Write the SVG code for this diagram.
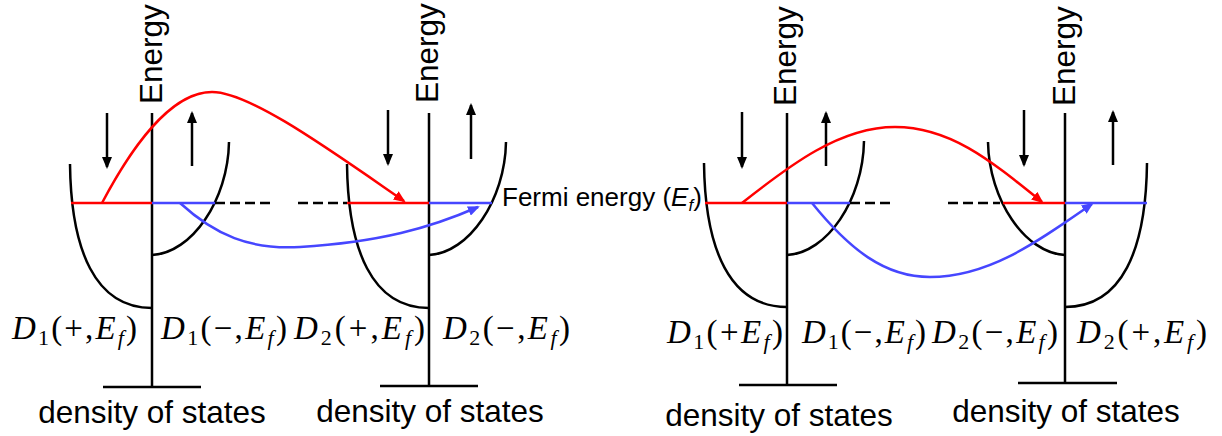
<svg xmlns="http://www.w3.org/2000/svg" width="1222" height="436" viewBox="0 0 1222 436">
<defs>
<style>
.ln{stroke:#000;stroke-width:2.5;fill:none}
.red{stroke:#ff0000;stroke-width:2.5;fill:none}
.blue{stroke:#4646ff;stroke-width:2.5;fill:none}
.dash{stroke:#000;stroke-width:2.5;fill:none;stroke-dasharray:10,5}
.en{font-family:"Liberation Sans",Arial,sans-serif;font-size:31.5px;fill:#000}
.dos{font-family:"Liberation Sans",Arial,sans-serif;font-size:31.5px;fill:#000;text-anchor:middle}
.fe{font-family:"Liberation Sans",Arial,sans-serif;font-size:26px;fill:#000}
.m{font-family:"Liberation Serif","Times New Roman",serif;font-size:33px;fill:#000}
.i{font-style:italic}
.s{font-size:22px}
</style>
<marker id="ak" viewBox="0 0 12 10" refX="10" refY="5" markerWidth="12" markerHeight="10" markerUnits="userSpaceOnUse" orient="auto"><path d="M0,0 L12,5 L0,10 z" fill="#000"/></marker>
<marker id="ar" viewBox="0 0 12 10" refX="10" refY="5" markerWidth="12" markerHeight="10" markerUnits="userSpaceOnUse" orient="auto"><path d="M0,0 L12,5 L0,10 z" fill="#ff0000"/></marker>
<marker id="ab" viewBox="0 0 12 10" refX="10" refY="5" markerWidth="12" markerHeight="10" markerUnits="userSpaceOnUse" orient="auto"><path d="M0,0 L12,5 L0,10 z" fill="#4646ff"/></marker>
</defs>
<rect width="1222" height="436" fill="#fff"/>

<g id="panel1">
<path class="ln" d="M152,113 V387 M103,387 H201"/>
<path class="ln" d="M70,164 C71,250 95,308 152,308"/>
<path class="ln" d="M229,142 C228,200 192,253 152,255"/>
<path class="red" d="M71,203 H152"/>
<path class="blue" d="M152,203 H215"/>
<path class="ln" marker-end="url(#ak)" d="M107,113 V167"/>
<path class="ln" marker-end="url(#ak)" d="M192,166 V113"/>
<text class="en" transform="translate(162,104) rotate(-90)">Energy</text>
<text class="m" x="12" y="339" textLength="125" lengthAdjust="spacing"><tspan class="i">D</tspan><tspan class="s" dy="6">1</tspan><tspan dy="-6">(+,</tspan><tspan class="i">E</tspan><tspan class="s i" dy="6">f</tspan><tspan dy="-6">)</tspan></text>
<text class="m" x="161" y="339" textLength="126" lengthAdjust="spacing"><tspan class="i">D</tspan><tspan class="s" dy="6">1</tspan><tspan dy="-6">(−,</tspan><tspan class="i">E</tspan><tspan class="s i" dy="6">f</tspan><tspan dy="-6">)</tspan></text>
<text class="dos" x="152" y="423">density of states</text>
</g>

<g id="panel2">
<path class="ln" d="M429,113 V386 M380,386 H478"/>
<path class="ln" d="M347,164 C348,250 372,308 429,308"/>
<path class="ln" d="M506,142 C505,200 469,253 429,255"/>
<path class="red" d="M347,203 H429"/>
<path class="blue" d="M429,203 H492"/>
<path class="ln" marker-end="url(#ak)" d="M388,110 V164"/>
<path class="ln" marker-end="url(#ak)" d="M471,159 V105"/>
<text class="en" transform="translate(438,103) rotate(-90)">Energy</text>
<text class="m" x="294" y="339" textLength="131" lengthAdjust="spacing"><tspan class="i">D</tspan><tspan class="s" dy="6">2</tspan><tspan dy="-6">(+,</tspan><tspan class="i">E</tspan><tspan class="s i" dy="6">f</tspan><tspan dy="-6">)</tspan></text>
<text class="m" x="443" y="339" textLength="127" lengthAdjust="spacing"><tspan class="i">D</tspan><tspan class="s" dy="6">2</tspan><tspan dy="-6">(−,</tspan><tspan class="i">E</tspan><tspan class="s i" dy="6">f</tspan><tspan dy="-6">)</tspan></text>
<text class="dos" x="430" y="422">density of states</text>
</g>

<g id="fermi-label">
<text class="fe" x="502" y="206">Fermi energy (<tspan class="i">E</tspan><tspan class="i" font-size="17" dy="5">f</tspan><tspan dy="-5">)</tspan></text>
</g>

<g id="panel3">
<path class="ln" d="M787,113 V385 M739,385 H837"/>
<path class="ln" d="M704,163 C705,250 730,307 787,307"/>
<path class="ln" d="M864,141 C863,200 827,253 787,255"/>
<path class="red" d="M705,203 H787"/>
<path class="blue" d="M787,203 H850"/>
<path class="ln" marker-end="url(#ak)" d="M742,112 V167"/>
<path class="ln" marker-end="url(#ak)" d="M826,166 V113"/>
<text class="en" transform="translate(796,106) rotate(-90)">Energy</text>
<text class="m" x="667" y="343" textLength="116" lengthAdjust="spacing"><tspan class="i">D</tspan><tspan class="s" dy="6">1</tspan><tspan dy="-6">(+</tspan><tspan class="i">E</tspan><tspan class="s i" dy="6">f</tspan><tspan dy="-6">)</tspan></text>
<text class="m" x="802" y="343" textLength="124" lengthAdjust="spacing"><tspan class="i">D</tspan><tspan class="s" dy="6">1</tspan><tspan dy="-6">(−,</tspan><tspan class="i">E</tspan><tspan class="s i" dy="6">f</tspan><tspan dy="-6">)</tspan></text>
<text class="dos" x="779" y="426">density of states</text>
</g>

<g id="panel4">
<path class="ln" d="M1065,113 V383 M1018,383 H1117"/>
<path class="ln" d="M988,142 C989,200 1025,253 1065,255"/>
<path class="ln" d="M1147,163 C1146,250 1122,307 1065,307"/>
<path class="red" d="M1003,203 H1065"/>
<path class="blue" d="M1065,203 H1147"/>
<path class="ln" marker-end="url(#ak)" d="M1024,110 V165"/>
<path class="ln" marker-end="url(#ak)" d="M1113,165 V112"/>
<text class="en" transform="translate(1075,106) rotate(-90)">Energy</text>
<text class="m" x="932" y="343" textLength="126" lengthAdjust="spacing"><tspan class="i">D</tspan><tspan class="s" dy="6">2</tspan><tspan dy="-6">(−,</tspan><tspan class="i">E</tspan><tspan class="s i" dy="6">f</tspan><tspan dy="-6">)</tspan></text>
<text class="m" x="1077" y="343" textLength="130" lengthAdjust="spacing"><tspan class="i">D</tspan><tspan class="s" dy="6">2</tspan><tspan dy="-6">(+,</tspan><tspan class="i">E</tspan><tspan class="s i" dy="6">f</tspan><tspan dy="-6">)</tspan></text>
<text class="dos" x="1066" y="422">density of states</text>
</g>

<g id="connectors">
<path class="dash" d="M215,203 H270 M298,203 H347"/>
<path class="dash" d="M850,203 H895 M948,203 H1000"/>
<path class="red" marker-end="url(#ar)" d="M102,203 C130,150 170,92 212,92 C250,92 330,150 404,201"/>
<path class="blue" marker-end="url(#ab)" d="M180,203 C215,235 250,250 300,247 C380,242 430,228 478,207"/>
<path class="red" marker-end="url(#ar)" d="M742,203 C790,165 840,127 895,127 C950,127 990,160 1042,202"/>
<path class="blue" marker-end="url(#ab)" d="M812,203 C850,250 885,277 930,277 C990,277 1040,240 1092,204"/>
</g>
</svg>
